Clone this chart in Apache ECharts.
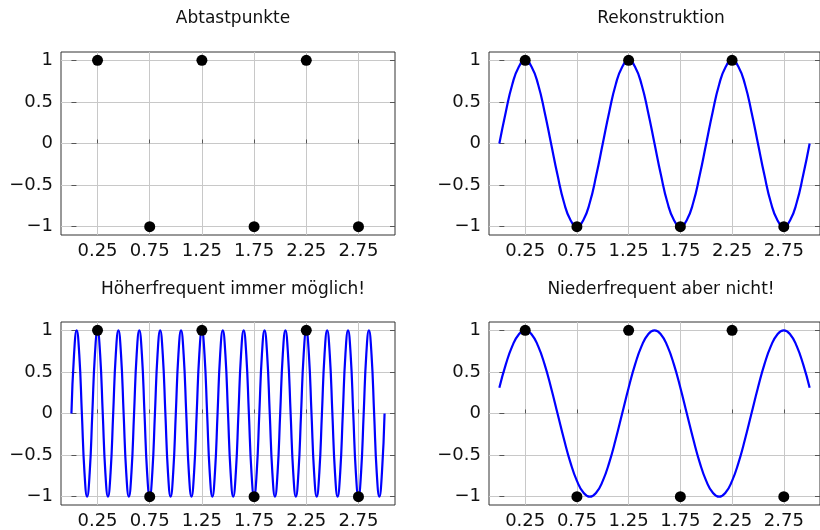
<!DOCTYPE html>
<html>
<head>
<meta charset="utf-8">
<script src="https://cdn.jsdelivr.net/npm/echarts@6/dist/echarts.min.js"></script>
<style>
html, body { margin: 0; background: #fff; }
#main { width: 820px; height: 530px; }
</style>
</head>
<body>
<div id="main"></div>
<script>
var titles = ['Abtastpunkte', 'Rekonstruktion', 'Höherfrequent immer möglich!', 'Niederfrequent aber nicht!'];
var xTicks = [0.25, 0.75, 1.25, 1.75, 2.25, 2.75];
var yTicks = [-1, -0.5, 0, 0.5, 1];

// Abtastpunkte
var sampleX = [0.25, 0.75, 1.25, 1.75, 2.25, 2.75];
var sampleY = [1, -1, 1, -1, 1, -1];

// Rekonstruktion, Abstand 0.0625 ab x = 0
var reconStep = 0.0625;
var reconY = [
    0, 0.38, 0.71, 0.92, 1, 0.92, 0.71, 0.38, 0, -0.38, -0.71, -0.92, -1, -0.92, -0.71, -0.38,
    0, 0.38, 0.71, 0.92, 1, 0.92, 0.71, 0.38, 0, -0.38, -0.71, -0.92, -1, -0.92, -0.71, -0.38,
    0, 0.38, 0.71, 0.92, 1, 0.92, 0.71, 0.38, 0, -0.38, -0.71, -0.92, -1, -0.92, -0.71, -0.38,
    0
];

// hoeherfrequent, Abstand 0.025 ab x = 0
var highStep = 0.025;
var highY = [
    0, 0.71, 1, 0.71, 0, -0.71, -1, -0.71,
    0, 0.71, 1, 0.71, 0, -0.71, -1, -0.71,
    0, 0.71, 1, 0.71, 0, -0.71, -1, -0.71,
    0, 0.71, 1, 0.71, 0, -0.71, -1, -0.71,
    0, 0.71, 1, 0.71, 0, -0.71, -1, -0.71,
    0, 0.71, 1, 0.71, 0, -0.71, -1, -0.71,
    0, 0.71, 1, 0.71, 0, -0.71, -1, -0.71,
    0, 0.71, 1, 0.71, 0, -0.71, -1, -0.71,
    0, 0.71, 1, 0.71, 0, -0.71, -1, -0.71,
    0, 0.71, 1, 0.71, 0, -0.71, -1, -0.71,
    0, 0.71, 1, 0.71, 0, -0.71, -1, -0.71,
    0, 0.71, 1, 0.71, 0, -0.71, -1, -0.71,
    0, 0.71, 1, 0.71, 0, -0.71, -1, -0.71,
    0, 0.71, 1, 0.71, 0, -0.71, -1, -0.71,
    0, 0.71, 1, 0.71, 0, -0.71, -1, -0.71,
    0
];

// niederfrequent, Abstand 0.0625 ab x = 0
var lowStep = 0.0625;
var lowY = [
    0.31, 0.59, 0.81, 0.95, 1, 0.95, 0.81, 0.59, 0.31, 0,
    -0.31, -0.59, -0.81, -0.95, -1, -0.95, -0.81, -0.59, -0.31, 0,
    0.31, 0.59, 0.81, 0.95, 1, 0.95, 0.81, 0.59, 0.31, 0,
    -0.31, -0.59, -0.81, -0.95, -1, -0.95, -0.81, -0.59, -0.31, 0,
    0.31, 0.59, 0.81, 0.95, 1, 0.95, 0.81, 0.59, 0.31
];

var font = 'DejaVu Sans';
var boxes = [[61, 52], [489, 52], [61, 322], [489, 322]];
var boxW = 334, boxH = 183;

function pairs(xs, ys) {
    return ys.map(function (y, i) { return [xs[i], y]; });
}
function stepped(step, ys) {
    return ys.map(function (y, i) { return [i * step, y]; });
}
function minus(v) {
    return String(v).replace('-', '\u2212');
}

var myChart = echarts.init(document.getElementById('main'));

var option = {
    animation: false,
    backgroundColor: '#fff',
    textStyle: { fontFamily: font },
    title: [],
    grid: [],
    xAxis: [],
    yAxis: [],
    series: []
};

boxes.forEach(function (b, i) {
    option.title.push({
        text: titles[i],
        left: b[0] + boxW / 2,
        top: b[1] < 100 ? 5 : 276,
        textAlign: 'center',
        textStyle: { fontFamily: font, fontSize: 17, fontWeight: 'normal', color: '#111' }
    });
    option.grid.push({
        left: b[0], top: b[1], width: boxW, height: i < 2 ? boxH : boxH + 1,
        show: true, borderColor: '#333', borderWidth: 1, backgroundColor: 'transparent'
    });
    option.xAxis.push({
        type: 'value', gridIndex: i, min: -0.1, max: 3.1,
        axisLine: { show: false },
        axisTick: { inside: true, length: 4, customValues: xTicks, lineStyle: { color: '#555' } },
        axisLabel: { customValues: xTicks, margin: 7, fontSize: 18, fontFamily: font, color: '#111' },
        splitLine: { show: true, lineStyle: { color: '#c8c8c8', width: 1 } }
    });
    // links mit Beschriftung
    option.yAxis.push({
        type: 'value', gridIndex: i, min: -1.1, max: 1.1, position: 'left',
        axisLine: { show: false },
        axisTick: { inside: true, length: 5, customValues: yTicks, lineStyle: { color: '#555' } },
        axisLabel: { customValues: yTicks, margin: 8, fontSize: 18, fontFamily: font, color: '#111', formatter: minus },
        splitLine: { show: true, lineStyle: { color: '#c8c8c8', width: 1 } }
    });
    // rechts nur Striche
    option.yAxis.push({
        type: 'value', gridIndex: i, min: -1.1, max: 1.1, position: 'right',
        axisLine: { show: false },
        axisTick: { inside: true, length: 5, customValues: yTicks, lineStyle: { color: '#555' } },
        axisLabel: { show: false },
        splitLine: { show: false }
    });
});

var curves = [null, stepped(reconStep, reconY), stepped(highStep, highY), stepped(lowStep, lowY)];
curves.forEach(function (c, i) {
    if (c) {
        option.series.push({
            type: 'line', xAxisIndex: i, yAxisIndex: i * 2,
            data: c, smooth: true, showSymbol: false, symbol: 'none',
            lineStyle: { color: '#0000ff', width: 2.2 }, z: 2
        });
    }
    option.series.push({
        type: 'scatter', xAxisIndex: i, yAxisIndex: i * 2,
        data: pairs(sampleX, sampleY), symbolSize: 11,
        itemStyle: { color: '#000', opacity: 1 }, z: 3
    });
});

myChart.setOption(option);
</script>
</body>
</html>
